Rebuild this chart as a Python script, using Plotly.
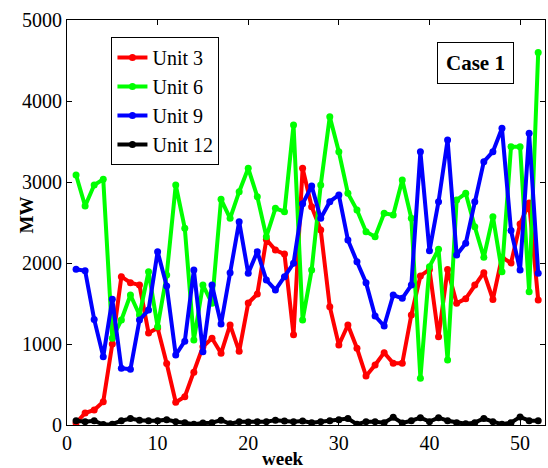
import plotly.graph_objects as go

weeks = list(range(1, 53))

unit3 = [25, 148, 185, 288, 1000, 1831, 1757, 1728, 1136, 1198, 760, 280, 350, 650,
         967, 1070, 885, 1235, 910, 1505, 1617, 2290, 2160, 2110, 1115, 3169,
         2695, 2407, 1461, 988, 1235, 947, 605, 741, 893, 761, 761, 1358, 1840, 1920,
         1090, 1920, 1502, 1560, 1728, 1880, 1550, 2070, 2000, 2480, 2740, 1543]

unit6 = [3086, 2704, 2963, 3033, 1070, 1296, 1605, 1358, 1893, 1214, 1852, 2963, 2430,
         1049, 1728, 1502, 2786, 2551, 2880, 3169, 2819, 2325, 2675, 2634, 3704, 1296,
         1914, 2963, 3807, 3374, 2860, 2654, 2387, 2325, 2613, 2593, 3025, 2551, 576,
         1955, 2170, 802, 2778, 2860, 2448, 2070, 2572, 1893, 3436, 3436, 1646, 4600]

unit9 = [1922, 1905, 1304, 844, 1551, 700, 687, 1296, 1420, 2140, 1716, 864, 1035,
         1914, 905, 1728, 1247, 1880, 2510, 1873, 2140, 1790, 1667, 1831, 1996, 2730,
         2950, 2551, 2757, 2840, 2284, 2016, 1757, 1346, 1222, 1605, 1564, 1728, 3374,
         2150, 2757, 3519, 2099, 2243, 2757, 3251, 3374, 3663, 2400, 1914, 3601, 1873]

unit12 = [53, 41, 53, 5, 10, 53, 80, 60, 53, 53, 66, 41, 29, 10, 25, 29, 60, 15, 41, 37,
          41, 41, 60, 50, 41, 50, 29, 41, 53, 66, 80, 10, 41, 41, 29, 95, 25, 53, 90,
          41, 90, 53, 29, 15, 29, 80, 41, 10, 29, 100, 53, 53]

series = [("Unit 3", unit3, "#ff0000"),
          ("Unit 6", unit6, "#00ff00"),
          ("Unit 9", unit9, "#0000ff"),
          ("Unit 12", unit12, "#000000")]

x_ticks = [0, 10, 20, 30, 40, 50]
y_ticks = [0, 1000, 2000, 3000, 4000, 5000]

fig = go.Figure()
for name, vals, col in series:
    fig.add_trace(go.Scatter(
        x=weeks, y=vals, name=name, mode="lines+markers",
        line=dict(color=col, width=4),
        marker=dict(color=col, size=7, symbol="circle"),
    ))

serif = "Liberation Serif, Times New Roman, serif"

fig.update_layout(
    width=548, height=468,
    margin=dict(l=67, r=3, t=20, b=43),
    paper_bgcolor="white", plot_bgcolor="white",
    font=dict(family=serif, size=19, color="black"),
    showlegend=True,
    legend=dict(
        x=0.093, y=0.958, xanchor="left", yanchor="top",
        bgcolor="white", bordercolor="black", borderwidth=1,
        font=dict(family=serif, size=20, color="black"),
        itemwidth=30, tracegroupgap=0,
    ),
    xaxis=dict(
        range=[0, 52.75], tickvals=x_ticks, ticktext=[str(t) for t in x_ticks],
        ticks="inside", ticklen=5, tickcolor="black",
        showline=True, linecolor="black", linewidth=1, mirror="ticks",
        showgrid=False, zeroline=False,
        tickfont=dict(family=serif, size=20),
    ),
    yaxis=dict(
        range=[0, 5000], tickvals=y_ticks, ticktext=[str(t) for t in y_ticks],
        ticks="inside", ticklen=5, tickcolor="black",
        showline=True, linecolor="black", linewidth=1, mirror="ticks",
        showgrid=False, zeroline=False,
        tickfont=dict(family=serif, size=20),
    ),
    annotations=[
        dict(text="<b>Case 1</b>", xref="paper", yref="paper",
             x=0.854, y=0.894, xanchor="center", yanchor="middle",
             showarrow=False, font=dict(family=serif, size=21, color="black"),
             bordercolor="black", borderwidth=1, borderpad=8, bgcolor="white"),
        dict(text="<b>week</b>", xref="paper", yref="paper",
             x=(283 - 67.5) / 477.5, y=(425 - 458) / 405,
             xanchor="center", yanchor="middle", showarrow=False,
             font=dict(family=serif, size=19, color="black")),
        dict(text="<b>MW</b>", xref="paper", yref="paper", textangle=-90,
             x=(27 - 67.5) / 477.5, y=(425 - 215) / 405,
             xanchor="center", yanchor="middle", showarrow=False,
             font=dict(family=serif, size=19, color="black")),
    ],
)

fig.write_html("out.html")
